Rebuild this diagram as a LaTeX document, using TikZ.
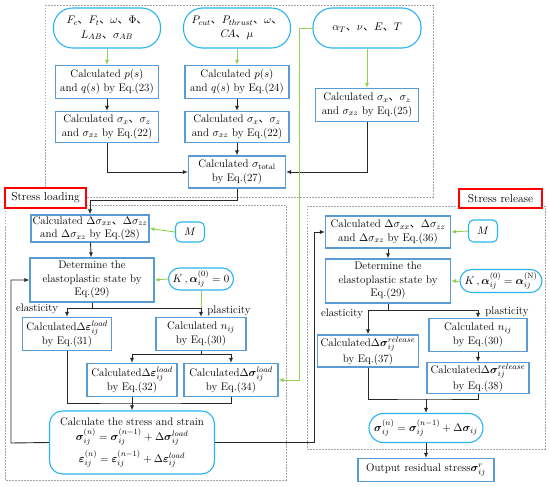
\documentclass[tikz,border=0pt]{standalone}
\usepackage{amsmath,amsbsy}
\usepackage{fontspec}
\newfontfamily\cjk{Noto Sans CJK SC}
\usetikzlibrary{arrows.meta,calc}
\newcommand{\dun}{{\cjk 、}}
\newcommand{\bs}[1]{\boldsymbol{#1}}
\definecolor{boxblue}{RGB}{91,155,213}
\definecolor{ovalblue}{RGB}{40,180,240}
\definecolor{lgreen}{RGB}{146,208,80}
\definecolor{dgray}{RGB}{40,40,40}
\begin{document}
\begin{tikzpicture}[x=1pt,y=-1pt,
  every node/.style={font=\fontsize{11}{13.5}\selectfont, inner sep=0pt, align=center},
  box/.style={draw=boxblue, line width=1.1pt, fill=white},
  oval/.style={draw=ovalblue, line width=1.1pt, fill=white, rounded corners=#1},
  arr/.style={draw=dgray, line width=0.9pt, -{Latex[length=5pt,width=4pt]}},
  ln/.style={draw=dgray, line width=0.9pt},
  garr/.style={draw=lgreen, line width=0.9pt, -{Latex[length=5pt,width=4pt]}},
  gln/.style={draw=lgreen, line width=0.9pt},
  dbox/.style={draw=gray!70, line width=0.7pt, dash pattern=on 1.5pt off 1.5pt},
  redlab/.style={draw=red, line width=1.1pt, fill=white, font=\fontsize{11.5}{13}\selectfont}
]
\useasboundingbox (0,0) rectangle (550,487);
% dashed regions
\draw[dbox] (45,5) rectangle (433,197);
\draw[dbox] (5,205) rectangle (286,480);
\draw[dbox] (307,206) rectangle (545,449);
\node[redlab, minimum width=81pt, minimum height=20pt] (lbl1) at (45.5,198) {Stress loading};
\node[redlab, minimum width=83pt, minimum height=19pt] (lbl2) at (500.5,198.5) {Stress release};

% top section
\node[oval=19pt, minimum width=107pt, minimum height=40pt] (o1) at (107,28)
  {$F_c$\dun$F_t$\dun$\omega$\dun$\Phi$\dun\\[1pt]$L_{AB}$\dun$\sigma_{AB}$};
\node[oval=19pt, minimum width=107pt, minimum height=40pt] (o2) at (237,28)
  {$P_{cut}$\dun$P_{thrust}$\dun$\omega$\dun\\[1pt]$C\!A$\dun$\mu$};
\node[oval=19pt, minimum width=108pt, minimum height=40pt] (o3) at (367,28)
  {$\alpha_T$\dun$\nu$\dun$E$\dun$T$};
\node[box, minimum width=103pt, minimum height=33pt] (b23) at (107,82) {Calculated $p(s)$\\and $q(s)$ by Eq.(23)};
\node[box, minimum width=104pt, minimum height=33pt] (b24) at (237,82) {Calculated $p(s)$\\and $q(s)$ by Eq.(24)};
\node[box, minimum width=103pt, minimum height=31pt] (b22a) at (107,127) {Calculated $\sigma_x$\dun$\sigma_z$\\and $\sigma_{xz}$ by Eq.(22)};
\node[box, minimum width=104pt, minimum height=31pt] (b22b) at (237,127) {Calculated $\sigma_x$\dun$\sigma_z$\\and $\sigma_{xz}$ by Eq.(22)};
\node[box, minimum width=103pt, minimum height=33pt] (b25) at (367,105) {Calculated $\sigma_x$\dun$\sigma_z$\\and $\sigma_{xz}$ by Eq.(25)};
\node[box, minimum width=97pt, minimum height=32pt] (b27) at (237,172) {Calculated $\sigma_{\mathrm{total}}$\\by Eq.(27)};

% stress loading
\node[box, minimum width=118pt, minimum height=27pt] (b28) at (90,228.5) {Calculated $\Delta\sigma_{xx}$\dun$\Delta\sigma_{zz}$\\and $\Delta\sigma_{xz}$ by Eq.(28)};
\node[oval=5pt, minimum width=29pt, minimum height=20pt] (m1) at (190,232) {$M$};
\node[box, minimum width=124pt, minimum height=44pt] (b29) at (92,280) {Determine the\\elastoplastic state by\\Eq.(29)};
\node[oval=11pt, minimum width=65pt, minimum height=22pt] (k1) at (201,279) {$K\,,\bs{\alpha}_{ij}^{(0)}=0$};
\node[box, minimum width=89pt, minimum height=33pt] (b31) at (67,334) {Calculated$\Delta\bs{\varepsilon}_{ij}^{load}$\\[1pt]by Eq.(31)};
\node[box, minimum width=90pt, minimum height=33pt] (b30) at (201,334) {Calculated $n_{ij}$\\by Eq.(30)};
\node[box, minimum width=90pt, minimum height=33pt] (b32) at (132,380) {Calculated$\Delta\bs{\varepsilon}_{ij}^{load}$\\[1pt]by Eq.(32)};
\node[box, minimum width=94pt, minimum height=33pt] (b34) at (231,380) {Calculated$\Delta\bs{\sigma}_{ij}^{load}$\\[1pt]by Eq.(34)};
\node[oval=13pt, minimum width=165pt, minimum height=63pt] (r1) at (132,442.5)
  {Calculate the stress and strain\\[1pt]
   $\bs{\sigma}_{ij}^{(n)}=\bs{\sigma}_{ij}^{(n-1)}+\Delta\bs{\sigma}_{ij}^{load}$\\[4pt]
   $\bs{\varepsilon}_{ij}^{(n)}=\bs{\varepsilon}_{ij}^{(n-1)}+\Delta\bs{\varepsilon}_{ij}^{load}$};
\node (el1) at (37,309) {elasticity};
\node (pl1) at (229,311) {plasticity};

% stress release
\node[box, minimum width=125pt, minimum height=32pt] (b36) at (388,232) {Calculated $\Delta\sigma_{xx}$\dun$\Delta\sigma_{zz}$\\and $\Delta\sigma_{xz}$ by Eq.(36)};
\node[oval=5pt, minimum width=29pt, minimum height=22pt] (m2) at (483,231) {$M$};
\node[box, minimum width=125pt, minimum height=44pt] (b29b) at (388,281) {Determine the\\elastoplastic state by\\Eq.(29)};
\node[oval=11.5pt, minimum width=82pt, minimum height=23pt] (k2) at (501,281) {$K\,,\bs{\alpha}_{ij}^{(0)}=\bs{\alpha}_{ij}^{(\mathrm{N})}$};
\node[box, minimum width=101pt, minimum height=32pt] (b37) at (368,351) {Calculated$\Delta\bs{\sigma}_{ij}^{release}$\\[2pt]by Eq.(37)};
\node[box, minimum width=98pt, minimum height=33pt] (b30b) at (478,335) {Calculated $n_{ij}$\\by Eq.(30)};
\node[box, minimum width=102pt, minimum height=31pt] (b38) at (478,378) {Calculated$\Delta\bs{\sigma}_{ij}^{release}$\\[2pt]by Eq.(38)};
\node[oval=14.5pt, minimum width=114pt, minimum height=29pt] (r2) at (426,428) {$\bs{\sigma}_{ij}^{(n)}=\bs{\sigma}_{ij}^{(n-1)}+\Delta\bs{\sigma}_{ij}$};
\node[box, minimum width=136pt, minimum height=23pt] (out) at (426,470) {Output residual stress$\bs{\sigma}_{ij}^{r}$};
\node (el2) at (342,314) {elasticity};
\node (pl2) at (507,312) {plasticity};

% connectors top
\draw[garr] (o1) -- (b23);
\draw[garr] (o2) -- (b24);
\draw[garr] (o3) -- (b25);
\draw[arr] (b23) -- (b22a);
\draw[arr] (b24) -- (b22b);
\draw[arr] (b22b) -- (b27);
\draw[arr] (b22a.south) |- (b27.west);
\draw[arr] (b25.south) |- (b27.east);
\coordinate (c27) at (237,200);
\draw[arr] (b27.south) -- (c27) -| (b28.north);
\coordinate (gtop) at (299,28);
\draw[garr] (o3.west) -- (gtop) |- (b34.east);

% loading connectors
\draw[garr] (m1.west) -- (b28.east);
\draw[arr] (b28) -- (b29);
\draw[garr] (k1.west) -- (b29.east);
\coordinate (j1) at (92,308);
\draw[ln] (b29.south) -- (j1);
\draw[arr] (j1) -| (b31.north);
\draw[arr] (j1) -| (b30.north);
\draw[gln] (k1.south) -- (k1.south |- j1);
\coordinate (j2) at (201,354);
\draw[ln] (b30.south) -- (j2);
\draw[arr] (j2) -| (b32.north);
\draw[arr] (j2) -| (b34.north);
\coordinate (h1) at (132,403);
\draw[ln] (b31.south) |- (h1) -| (b34.south);
\draw[ln] (b32.south) -- (h1);
\draw[arr] (h1) -- (r1.north);
\coordinate (lp1) at (11,443);
\draw[arr] (r1.west) -- (lp1) |- (b29.west);
\coordinate (lp2) at (314,232);
\draw[arr] (r1.east) -| (lp2) -- (b36.west);

% release connectors
\draw[garr] (m2.west) -- (b36.east);
\draw[garr] (k2.west) -- (b29b.east);
\draw[arr] (b36) -- (b29b);
\coordinate (j3) at (388,310);
\draw[ln] (b29b.south) -- (j3);
\draw[arr] (j3) -| (b37.north);
\draw[arr] (j3) -| (b30b.north);
\draw[arr] (b30b) -- (b38);
\coordinate (h2) at (426,399);
\draw[ln] (b37.south) |- (h2) -| (b38.south);
\draw[arr] (h2) -- (r2.north);
\draw[arr] (r2) -- (out);
\end{tikzpicture}
\end{document}
